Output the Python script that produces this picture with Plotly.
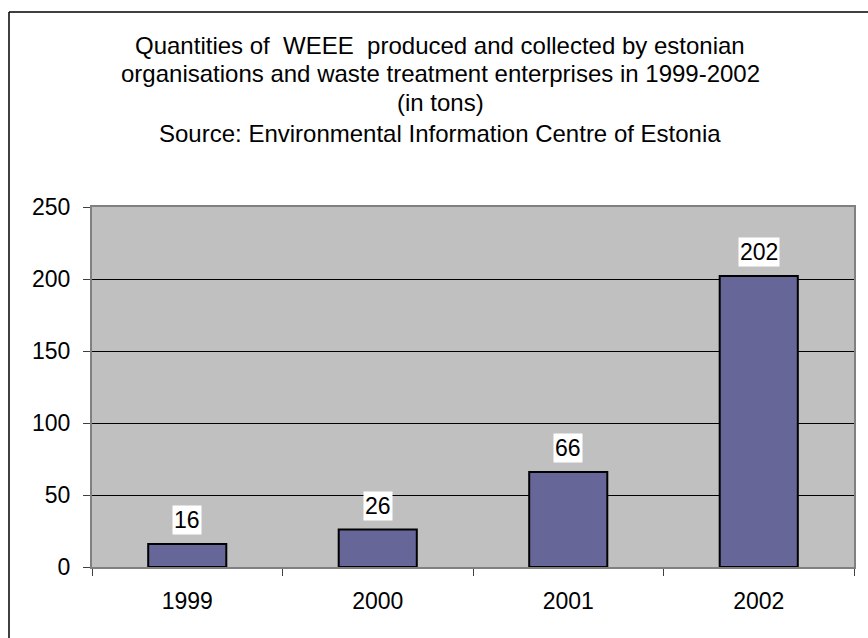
import plotly.graph_objects as go

years = ["1999", "2000", "2001", "2002"]
values = [16, 26, 66, 202]
title_lines = [
    "Quantities of  WEEE  produced and collected by estonian",
    "organisations and waste treatment enterprises in 1999-2002",
    "(in tons)",
    "Source: Environmental Information Centre of Estonia",
]
y_ticks = [0, 50, 100, 150, 200, 250]

W, H = 868, 638
L, R, T, B = 92, 14, 207, 71
PW, PH = W - L - R, H - T - B

def px_x(p):
    return (p - L) / PW

def px_y(p):
    return (H - B - p) / PH

FONT = "Liberation Sans, Arial, sans-serif"

fig = go.Figure()
fig.add_trace(go.Bar(
    x=years, y=values, width=0.41,
    marker=dict(color="#666699", line=dict(color="black", width=2)),
    hoverinfo="skip",
))

annotations = []
for i, v in enumerate(values):
    annotations.append(dict(
        x=i, y=v, xref="x", yref="y", text=str(v), showarrow=False,
        yanchor="bottom", yshift=9, bgcolor="white", borderpad=1,
        font=dict(family=FONT, size=23, color="black"),
    ))

title_centers = [45, 73, 103, 133]
for line, cy in zip(title_lines, title_centers):
    annotations.append(dict(
        x=px_x(440), y=px_y(cy), xref="paper", yref="paper", text=line,
        showarrow=False, xanchor="center", yanchor="middle",
        font=dict(family=FONT, size=24, color="black"),
    ))

shapes = [
    dict(type="line", xref="paper", yref="paper",
         x0=px_x(9), y0=px_y(12), x1=px_x(9), y1=px_y(H + 5),
         line=dict(color="black", width=1.5)),
    dict(type="line", xref="paper", yref="paper",
         x0=px_x(9), y0=px_y(12), x1=px_x(W + 5), y1=px_y(12),
         line=dict(color="black", width=1.5)),
]

fig.update_layout(
    width=W, height=H,
    margin=dict(l=L, r=R, t=T, b=B, pad=0),
    paper_bgcolor="white", plot_bgcolor="#C0C0C0",
    showlegend=False,
    font=dict(family=FONT, size=23, color="black"),
    annotations=annotations,
    shapes=shapes,
)
fig.update_xaxes(
    type="category", range=[-0.5, 3.5], tickson="boundaries",
    ticks="outside", ticklen=7, tickcolor="#404040", tickwidth=1,
    showline=True, linecolor="#808080", linewidth=2, mirror=True,
    showgrid=False, tickfont=dict(size=23), ticklabelstandoff=12,
    tickangle=0,
)
fig.update_yaxes(
    range=[0, 250], tickvals=y_ticks, ticks="outside", ticklen=7,
    tickcolor="#404040", tickwidth=1,
    showline=True, linecolor="#808080", linewidth=2, mirror=True,
    showgrid=True, gridcolor="black", gridwidth=1, zeroline=False,
    tickfont=dict(size=23), ticklabelstandoff=8,
)

fig.write_html("out.html")
